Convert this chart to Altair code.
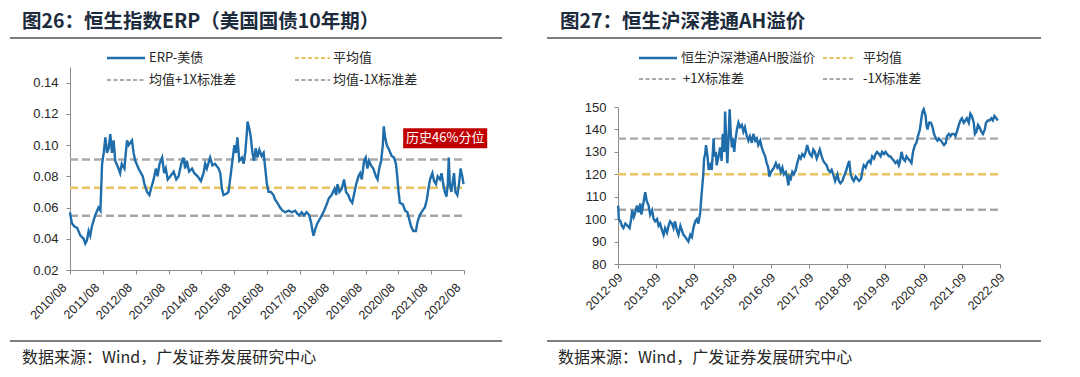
import altair as alt
import pandas as pd

# ---------------- data: left chart (ERP) ----------------
erp_t = [2010.58, 2010.64, 2010.71, 2010.80, 2010.90, 2011.00, 2011.05, 2011.10, 2011.15, 2011.20,
         2011.25, 2011.35, 2011.45, 2011.51, 2011.56, 2011.61, 2011.66, 2011.71, 2011.76, 2011.81,
         2011.86, 2011.91, 2011.96, 2012.06, 2012.11, 2012.16, 2012.24, 2012.27, 2012.32, 2012.37,
         2012.47, 2012.52, 2012.57, 2012.67, 2012.72, 2012.80, 2012.85, 2012.93, 2013.00, 2013.05,
         2013.13, 2013.20, 2013.25, 2013.31, 2013.39, 2013.45, 2013.50, 2013.56, 2013.64, 2013.74,
         2013.82, 2013.89, 2013.97, 2014.04, 2014.09, 2014.14, 2014.21, 2014.30, 2014.37, 2014.47,
         2014.57, 2014.65, 2014.70, 2014.75, 2014.85, 2014.92, 2015.00, 2015.11, 2015.16, 2015.21,
         2015.26, 2015.36, 2015.41, 2015.46, 2015.53, 2015.59, 2015.64, 2015.68, 2015.74, 2015.82,
         2015.87, 2015.92, 2015.97, 2015.99, 2016.05, 2016.09, 2016.14, 2016.19, 2016.24, 2016.29,
         2016.35, 2016.42, 2016.48, 2016.53, 2016.58, 2016.63, 2016.70, 2016.78, 2016.83, 2016.90,
         2016.98, 2017.06, 2017.14, 2017.24, 2017.34, 2017.44, 2017.51, 2017.57, 2017.64, 2017.71,
         2017.79, 2017.87, 2017.93, 2017.97, 2018.00, 2018.05, 2018.12, 2018.20, 2018.25, 2018.32,
         2018.40, 2018.47, 2018.55, 2018.64, 2018.69, 2018.73, 2018.79, 2018.86, 2018.93, 2018.99,
         2019.06, 2019.11, 2019.18, 2019.23, 2019.30, 2019.37, 2019.42, 2019.47, 2019.54, 2019.59,
         2019.64, 2019.69, 2019.75, 2019.82, 2019.90, 2019.95, 2020.00, 2020.06, 2020.11, 2020.14,
         2020.18, 2020.23, 2020.30, 2020.38, 2020.45, 2020.51, 2020.55, 2020.59, 2020.63, 2020.72,
         2020.79, 2020.86, 2020.92, 2020.97, 2021.04, 2021.12, 2021.16, 2021.20, 2021.26, 2021.32,
         2021.39, 2021.45, 2021.50, 2021.55, 2021.62, 2021.67, 2021.73, 2021.78, 2021.85, 2021.90,
         2021.95, 2022.00, 2022.05, 2022.09, 2022.12, 2022.15, 2022.20, 2022.25, 2022.28, 2022.32,
         2022.38, 2022.43, 2022.48, 2022.53, 2022.57]
erp_v = [0.057, 0.050, 0.048, 0.047, 0.042, 0.040, 0.037, 0.039, 0.045, 0.042,
         0.048, 0.055, 0.060, 0.058, 0.088, 0.095, 0.105, 0.095, 0.098, 0.107,
         0.095, 0.103, 0.090, 0.085, 0.082, 0.088, 0.085, 0.092, 0.103, 0.100,
         0.103, 0.095, 0.090, 0.085, 0.083, 0.080, 0.075, 0.070, 0.068, 0.072,
         0.078, 0.085, 0.080, 0.088, 0.092, 0.082, 0.085, 0.078, 0.080, 0.083,
         0.078, 0.080, 0.088, 0.092, 0.085, 0.090, 0.083, 0.085, 0.082, 0.080,
         0.077, 0.082, 0.088, 0.085, 0.092, 0.087, 0.088, 0.085, 0.082, 0.072,
         0.068, 0.069, 0.070, 0.078, 0.090, 0.100, 0.095, 0.105, 0.090, 0.092,
         0.088, 0.095, 0.108, 0.115, 0.110, 0.105, 0.095, 0.090, 0.098, 0.092,
         0.097, 0.093, 0.095, 0.085, 0.075, 0.070, 0.070, 0.068, 0.065, 0.063,
         0.060, 0.058, 0.057, 0.058, 0.057, 0.058, 0.056, 0.055, 0.057, 0.055,
         0.057, 0.055, 0.050, 0.045, 0.042, 0.046, 0.050, 0.053, 0.055, 0.058,
         0.062, 0.066, 0.068, 0.072, 0.068, 0.075, 0.070, 0.072, 0.078, 0.070,
         0.068, 0.065, 0.063, 0.068, 0.075, 0.080, 0.082, 0.078, 0.090, 0.092,
         0.085, 0.090, 0.087, 0.085, 0.080, 0.078, 0.085, 0.090, 0.100, 0.112,
         0.105, 0.100, 0.097, 0.093, 0.092, 0.088, 0.080, 0.070, 0.063, 0.062,
         0.058, 0.057, 0.052, 0.048, 0.045, 0.045, 0.050, 0.053, 0.056, 0.058,
         0.060, 0.065, 0.072, 0.078, 0.082, 0.077, 0.075, 0.080, 0.078, 0.082,
         0.075, 0.070, 0.067, 0.075, 0.092, 0.075, 0.070, 0.078, 0.082, 0.070,
         0.068, 0.075, 0.085, 0.080, 0.075]
erp_ref_names = ["平均值", "均值+1X标准差", "均值-1X标准差"]
erp_ref_vals = [0.0727, 0.0908, 0.0547]
erp_x_ticks = [2010.583, 2011.583, 2012.583, 2013.583, 2014.583, 2015.583, 2016.583,
               2017.583, 2018.583, 2019.583, 2020.583, 2021.583, 2022.583]
erp_x_labels = ["2010/08", "2011/08", "2012/08", "2013/08", "2014/08", "2015/08", "2016/08",
                "2017/08", "2018/08", "2019/08", "2020/08", "2021/08", "2022/08"]
erp_y_ticks = [0.02, 0.04, 0.06, 0.08, 0.10, 0.12, 0.14]
erp_note_x = [2020.73, 2023.29]
erp_note_y = [0.0980, 0.1107]
erp_note_text = "历史46%分位"

# ---------------- data: right chart (AH premium) ----------------
ah_t = [2012.67, 2012.69, 2012.73, 2012.77, 2012.81, 2012.86, 2012.92, 2012.97, 2013.01, 2013.04,
        2013.08, 2013.12, 2013.16, 2013.21, 2013.25, 2013.28, 2013.32, 2013.38, 2013.42, 2013.47,
        2013.51, 2013.56, 2013.60, 2013.64, 2013.69, 2013.73, 2013.77, 2013.82, 2013.86, 2013.90,
        2013.95, 2013.99, 2014.03, 2014.08, 2014.12, 2014.16, 2014.21, 2014.25, 2014.30, 2014.34,
        2014.38, 2014.43, 2014.47, 2014.51, 2014.56, 2014.60, 2014.64, 2014.69, 2014.73, 2014.77,
        2014.82, 2014.84, 2014.88, 2014.90, 2014.92, 2014.95, 2014.97, 2015.01, 2015.04, 2015.08,
        2015.12, 2015.15, 2015.17, 2015.19, 2015.23, 2015.25, 2015.30, 2015.34, 2015.38, 2015.41,
        2015.45, 2015.47, 2015.50, 2015.53, 2015.57, 2015.59, 2015.62, 2015.65, 2015.67, 2015.71,
        2015.73, 2015.78, 2015.82, 2015.86, 2015.91, 2015.95, 2015.99, 2016.04, 2016.08, 2016.12,
        2016.17, 2016.21, 2016.26, 2016.30, 2016.34, 2016.39, 2016.43, 2016.47, 2016.52, 2016.56,
        2016.60, 2016.63, 2016.67, 2016.71, 2016.75, 2016.80, 2016.84, 2016.88, 2016.93, 2016.97,
        2017.01, 2017.06, 2017.10, 2017.13, 2017.15, 2017.19, 2017.23, 2017.27, 2017.32, 2017.36,
        2017.41, 2017.45, 2017.49, 2017.54, 2017.58, 2017.62, 2017.65, 2017.69, 2017.74, 2017.78,
        2017.82, 2017.87, 2017.91, 2017.95, 2018.00, 2018.04, 2018.08, 2018.13, 2018.17, 2018.22,
        2018.26, 2018.30, 2018.35, 2018.37, 2018.41, 2018.45, 2018.49, 2018.54, 2018.58, 2018.63,
        2018.68, 2018.72, 2018.76, 2018.80, 2018.84, 2018.89, 2018.93, 2018.98, 2019.03, 2019.07,
        2019.10, 2019.15, 2019.19, 2019.24, 2019.28, 2019.32, 2019.37, 2019.41, 2019.45, 2019.50,
        2019.54, 2019.58, 2019.63, 2019.67, 2019.71, 2019.76, 2019.80, 2019.84, 2019.89, 2019.93,
        2019.98, 2020.02, 2020.04, 2020.09, 2020.13, 2020.18, 2020.22, 2020.26, 2020.31, 2020.35,
        2020.39, 2020.44, 2020.48, 2020.52, 2020.57, 2020.61, 2020.64, 2020.67, 2020.72, 2020.74,
        2020.77, 2020.81, 2020.86, 2020.90, 2020.94, 2020.99, 2021.03, 2021.07, 2021.12, 2021.16,
        2021.20, 2021.25, 2021.28, 2021.33, 2021.37, 2021.41, 2021.46, 2021.50, 2021.54, 2021.59,
        2021.63, 2021.67, 2021.72, 2021.76, 2021.80, 2021.85, 2021.89, 2021.93, 2021.98, 2022.01,
        2022.05, 2022.09, 2022.13, 2022.18, 2022.22, 2022.27, 2022.30, 2022.35, 2022.39, 2022.44,
        2022.48, 2022.52, 2022.57, 2022.61]
ah_v = [106, 100, 99, 97, 96, 98, 97, 96, 100, 104,
        101, 103, 106, 103, 107, 102, 106, 112, 108, 106,
        102, 104, 100, 99, 100, 97, 98, 95, 93, 96,
        94, 97, 99, 98, 96, 99, 95, 93, 97, 95,
        93, 92, 91, 90, 93, 92, 96, 99, 100, 98,
        103, 108, 116, 120, 127, 129, 133, 128, 122, 124,
        122, 130, 136, 128, 130, 124, 128, 132, 126, 138,
        130, 148, 135, 125, 140, 149, 138, 132, 136, 130,
        134, 140, 143, 141, 142, 139, 141, 137, 135, 137,
        134, 138, 135, 136, 133, 135, 132, 130, 128, 125,
        123, 119, 121, 122, 123, 125, 123, 124, 121, 123,
        120, 121, 118, 115, 119, 118, 121, 120, 122, 125,
        128, 127, 129, 128, 130, 133, 131, 129, 128, 131,
        130, 127, 129, 131, 128, 126, 125, 124, 122, 121,
        122, 120, 117, 118, 120, 117, 116, 117, 119, 121,
        124, 126, 120, 118, 117, 119, 118, 117, 118, 122,
        124, 123, 125, 126, 125, 128, 127, 129, 130, 129,
        128, 130, 129, 130, 129, 128, 128, 127, 126, 125,
        126, 124, 125, 130, 127, 126, 128, 127, 126, 125,
        130, 133, 134, 137, 140, 145, 148, 149, 146, 142,
        140, 143, 143, 141, 138, 136, 135, 136, 135, 134,
        133, 134, 137, 138, 137, 138, 138, 137, 139, 142,
        144, 145, 143, 144, 145, 143, 147, 146, 143, 138,
        139, 142, 141, 139, 138, 140, 143, 144, 144, 145,
        144, 146, 145, 144]
ah_ref_names = ["平均值", "+1X标准差", "-1X标准差"]
ah_ref_vals = [120.0, 135.9, 104.2]
ah_x_ticks = [2012.667, 2013.667, 2014.667, 2015.667, 2016.667, 2017.667,
              2018.667, 2019.667, 2020.667, 2021.667, 2022.667]
ah_x_labels = ["2012-09", "2013-09", "2014-09", "2015-09", "2016-09", "2017-09",
               "2018-09", "2019-09", "2020-09", "2021-09", "2022-09"]
ah_y_ticks = [80, 90, 100, 110, 120, 130, 140, 150]

# ---------------- styling ----------------
BLUE = "#1F6DAA"
YELLOW = "#E8C55E"
GRAY = "#A8A8A8"
AXIS = "#8C8C8C"
TITLE_C = "#1C2B3C"
TXT = "#262626"
CJK = "Noto Sans CJK SC"
LAT = "Liberation Sans"
W, H = 540, 377
ONE = pd.DataFrame({"k": [0]})


def label_expr(ticks, labels):
    arr = "[" + ",".join("'%s'" % s for s in labels) + "]"
    return "%s[round(datum.value - %s)]" % (arr, ticks[0])


def text(s, x, y, size, color=TXT, weight="normal", font=CJK, align="left"):
    return alt.Chart(ONE).mark_text(text=s, align=align, baseline="middle", fontSize=size,
                                    font=font, fontWeight=weight, color=color).encode(
        x=alt.value(x), y=alt.value(y))


def hrule(x1, x2, y, color, width, dash=None):
    kw = dict(color=color, strokeWidth=width)
    if dash:
        kw["strokeDash"] = dash
    return alt.Chart(ONE).mark_rule(**kw).encode(x=alt.value(x1), x2=alt.value(x2), y=alt.value(y))


def panel(t, v, ref_names, ref_vals, xticks, xlabels, yticks, xr, yr, ydom, yfmt, lpad, loff):
    xs = alt.Scale(domain=[xticks[0], xticks[-1]], range=xr, nice=False, zero=False)
    ys = alt.Scale(domain=ydom, range=yr, nice=False, zero=False)
    xaxis = alt.Axis(values=xticks, labelExpr=label_expr(xticks, xlabels), labelAngle=-45,
                     labelAlign="right", labelBaseline="middle", labelPadding=lpad, labelOffset=loff,
                     labelOverlap=False, labelFlush=False, labelBound=False,
                     offset=yr[0] - H, grid=False, domainColor=AXIS, tickColor=AXIS, tickSize=4,
                     labelFont=LAT, labelFontSize=12.5, labelColor=TXT, title=None)
    yaxis = alt.Axis(values=yticks, format=yfmt, offset=-xr[0], grid=False, domainColor=AXIS,
                     tickColor=AXIS, tickSize=4, labelFont=LAT, labelFontSize=13, labelColor=TXT,
                     labelPadding=8, labelOverlap=False, labelFlush=False, title=None)
    df = pd.DataFrame({"t": t, "v": v})
    line = alt.Chart(df).mark_line(color=BLUE, strokeWidth=2.4).encode(
        x=alt.X("t:Q", scale=xs, axis=xaxis), y=alt.Y("v:Q", scale=ys, axis=yaxis))
    refs = pd.DataFrame({"name": ref_names, "val": ref_vals, "c": [YELLOW, GRAY, GRAY],
                         "x0": [xticks[0]] * 3, "x1": [xticks[-1]] * 3})
    rules = alt.Chart(refs).mark_rule(strokeDash=[8, 4], strokeWidth=2.4).encode(
        x="x0:Q", x2="x1:Q", y="val:Q", color=alt.Color("c:N", scale=None))
    return rules, line


# left panel
l_rules, l_line = panel(erp_t, erp_v, erp_ref_names, erp_ref_vals, erp_x_ticks, erp_x_labels,
                        erp_y_ticks, [70, 464], [270, 67], [0.02, 0.15], ".2f", 11, -6)
note_df = pd.DataFrame({"x0": [erp_note_x[0]], "x1": [erp_note_x[1]],
                        "y0": [erp_note_y[0]], "y1": [erp_note_y[1]],
                        "xm": [(erp_note_x[0] + erp_note_x[1]) / 2],
                        "ym": [(erp_note_y[0] + erp_note_y[1]) / 2], "s": [erp_note_text]})
note_box = alt.Chart(note_df).mark_rect(color="#C00000").encode(x="x0:Q", x2="x1:Q", y="y0:Q", y2="y1:Q")
note_txt = alt.Chart(note_df).mark_text(color="white", fontSize=13, font=CJK).encode(
    x="xm:Q", y="ym:Q", text="s:N")

left = alt.layer(
    l_rules, l_line, note_box, note_txt,
    text("图26：恒生指数ERP（美国国债10年期）", 22, 22, 19.5, TITLE_C, "bold"),
    hrule(10, 502, 38, "#555555", 1.5),
    hrule(107, 145, 58, BLUE, 2.5),
    text("ERP-美债", 149, 58, 13),
    hrule(295, 330, 58, YELLOW, 2, [4, 2.5]),
    text(erp_ref_names[0], 333, 58, 13),
    hrule(107, 145, 80, GRAY, 2, [4, 2.5]),
    text(erp_ref_names[1], 149, 80, 13),
    hrule(295, 330, 80, GRAY, 2, [4, 2.5]),
    text(erp_ref_names[2], 333, 80, 13),
    hrule(10, 502, 341, "#555555", 1.5),
    text("数据来源：Wind，广发证券发展研究中心", 22, 358, 16),
).properties(width=W, height=H)

# right panel
r_rules, r_line = panel(ah_t, ah_v, ah_ref_names, ah_ref_vals, ah_x_ticks, ah_x_labels,
                        ah_y_ticks, [618 - W, 1000 - W], [264, 107], [80, 150], "d", 7, 2)
right = alt.layer(
    r_rules, r_line,
    text("图27：恒生沪深港通AH溢价", 560 - W, 22, 19.5, TITLE_C, "bold"),
    hrule(547 - W, 1041 - W, 38, "#555555", 1.5),
    hrule(639 - W, 677 - W, 58, BLUE, 2.5),
    text("恒生沪深港通AH股溢价", 681 - W, 58, 13),
    hrule(823 - W, 855 - W, 58, YELLOW, 2, [4, 2.5]),
    text(ah_ref_names[0], 863 - W, 58, 13),
    hrule(639 - W, 677 - W, 79, GRAY, 2, [4, 2.5]),
    text(ah_ref_names[1], 683 - W, 79, 13),
    hrule(823 - W, 855 - W, 79, GRAY, 2, [4, 2.5]),
    text(ah_ref_names[2], 863 - W, 79, 13),
    hrule(547 - W, 1041 - W, 341, "#555555", 1.5),
    text("数据来源：Wind，广发证券发展研究中心", 558 - W, 358, 16),
).properties(width=W, height=H)

chart = alt.hconcat(left, right, spacing=0).properties(padding=0, background="white").configure_view(
    stroke=None).configure_concat(spacing=0)

chart.save("out.html", embed_options={"renderer": "svg", "actions": False})
